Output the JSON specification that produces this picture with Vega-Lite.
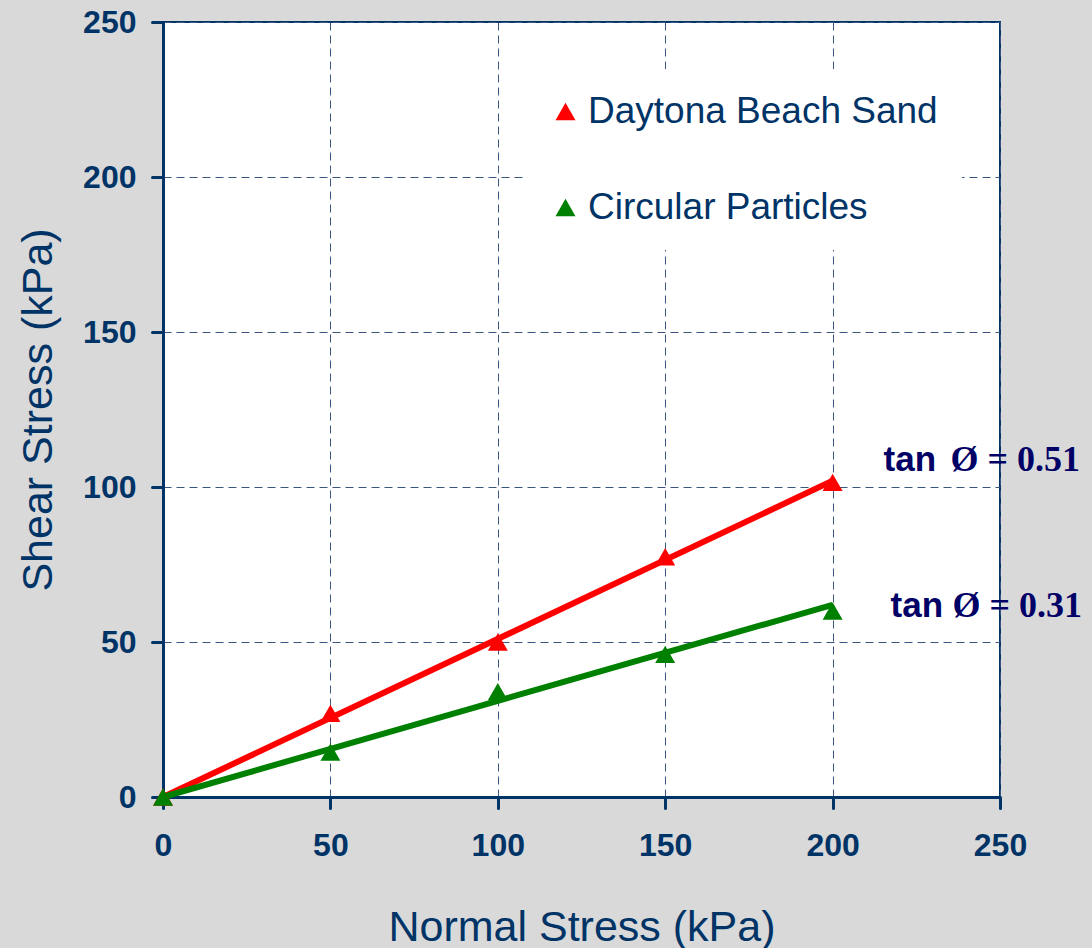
{
  "$schema": "https://vega.github.io/schema/vega-lite/v6.json",
  "autosize": {"type": "none"},
  "padding": {"left": 163, "top": 22, "right": 92, "bottom": 151},
  "width": 837,
  "height": 775,
  "background": "#d9d9d9",
  "config": {
    "view": {"fill": "white", "stroke": "#003366", "strokeWidth": 2},
    "axis": {
      "domainColor": "#003366",
      "domainWidth": 3,
      "tickColor": "#003366",
      "tickWidth": 3,
      "tickSize": 11,
      "tickCap": "round",
      "labelFont": "Liberation Sans",
      "labelFontSize": 32,
      "labelFontWeight": "bold",
      "labelColor": "#003366",
      "labelFlush": false,
      "labelOverlap": false,
      "gridColor": "#3a5680",
      "gridDash": [8, 5],
      "gridWidth": 1,
      "titleFont": "Liberation Sans",
      "titleFontSize": 43,
      "titleFontWeight": "normal",
      "titleColor": "#003366"
    },
    "legend": {
      "labelFont": "Liberation Sans",
      "labelFontSize": 37,
      "labelColor": "#003366",
      "labelLimit": 600
    }
  },
  "datasets": {
    "fits": [
      {"series": "Daytona Beach Sand", "normal": 0, "shear": 0},
      {"series": "Daytona Beach Sand", "normal": 200, "shear": 102},
      {"series": "Circular Particles", "normal": 0, "shear": 0},
      {"series": "Circular Particles", "normal": 200, "shear": 62}
    ]
  },
  "layer": [
    {
      "data": {"name": "fits"},
      "transform": [{"filter": "datum.series === 'Daytona Beach Sand'"}],
      "mark": {"type": "line", "strokeWidth": 6, "strokeCap": "butt", "color": "#ff0000"},
      "encoding": {
        "x": {
          "field": "normal", "type": "quantitative",
          "scale": {"domain": [0, 250], "nice": false},
          "axis": {"values": [0, 50, 100, 150, 200, 250], "title": "Normal Stress (kPa)", "labelPadding": 22, "titlePadding": 45}
        },
        "y": {
          "field": "shear", "type": "quantitative",
          "scale": {"domain": [0, 250], "nice": false},
          "axis": {"values": [0, 50, 100, 150, 200, 250], "title": "Shear Stress (kPa)", "labelPadding": 16, "titlePadding": 22}
        }
      }
    },
    {
      "data": {"name": "fits"},
      "transform": [{"filter": "datum.series === 'Circular Particles'"}],
      "mark": {"type": "line", "strokeWidth": 6, "strokeCap": "butt", "color": "#008000"},
      "encoding": {
        "x": {"field": "normal", "type": "quantitative"},
        "y": {"field": "shear", "type": "quantitative"}
      }
    },
    {
      "data": {
        "values": [
          {"series": "Daytona Beach Sand", "normal": 0, "shear": 0},
          {"series": "Daytona Beach Sand", "normal": 50, "shear": 27},
          {"series": "Daytona Beach Sand", "normal": 100, "shear": 50},
          {"series": "Daytona Beach Sand", "normal": 150, "shear": 77.5},
          {"series": "Daytona Beach Sand", "normal": 200, "shear": 101.5},
          {"series": "Circular Particles", "normal": 0, "shear": 0},
          {"series": "Circular Particles", "normal": 50, "shear": 14.5},
          {"series": "Circular Particles", "normal": 100, "shear": 34},
          {"series": "Circular Particles", "normal": 150, "shear": 46},
          {"series": "Circular Particles", "normal": 200, "shear": 60}
        ]
      },
      "mark": {"type": "point", "shape": "triangle-up", "filled": true, "opacity": 1, "size": 400},
      "encoding": {
        "x": {"field": "normal", "type": "quantitative"},
        "y": {"field": "shear", "type": "quantitative"},
        "color": {
          "field": "series", "type": "nominal",
          "scale": {"domain": ["Daytona Beach Sand", "Circular Particles"], "range": ["#ff0000", "#008000"]},
          "legend": {
            "title": null,
            "orient": "none",
            "legendX": 360,
            "legendY": 47,
            "fillColor": "white",
            "padding": 24,
            "rowPadding": 58,
            "labelOffset": 4,
            "symbolType": "triangle-up",
            "symbolSize": 400,
            "symbolStrokeWidth": 0,
            "symbolOpacity": 1
          }
        }
      }
    },
    {
      "data": {"values": [{"normal": 200, "shear": 102, "fn": "tan", "rest": "Ø = 0.51"}]},
      "layer": [
        {
          "mark": {"type": "text", "align": "left", "baseline": "alphabetic", "dx": 51, "dy": -10, "font": "Liberation Sans", "fontSize": 35, "fontWeight": "bold", "color": "#000066"},
          "encoding": {"x": {"field": "normal", "type": "quantitative"}, "y": {"field": "shear", "type": "quantitative"}, "text": {"field": "fn"}}
        },
        {
          "mark": {"type": "text", "align": "left", "baseline": "alphabetic", "dx": 118, "dy": -10, "font": "Liberation Serif", "fontSize": 36, "fontWeight": "bold", "color": "#000066"},
          "encoding": {"x": {"field": "normal", "type": "quantitative"}, "y": {"field": "shear", "type": "quantitative"}, "text": {"field": "rest"}}
        }
      ]
    },
    {
      "data": {"values": [{"normal": 200, "shear": 62, "fn": "tan", "rest": "Ø = 0.31"}]},
      "layer": [
        {
          "mark": {"type": "text", "align": "left", "baseline": "alphabetic", "dx": 58, "dy": 12, "font": "Liberation Sans", "fontSize": 35, "fontWeight": "bold", "color": "#000066"},
          "encoding": {"x": {"field": "normal", "type": "quantitative"}, "y": {"field": "shear", "type": "quantitative"}, "text": {"field": "fn"}}
        },
        {
          "mark": {"type": "text", "align": "left", "baseline": "alphabetic", "dx": 120, "dy": 12, "font": "Liberation Serif", "fontSize": 36, "fontWeight": "bold", "color": "#000066"},
          "encoding": {"x": {"field": "normal", "type": "quantitative"}, "y": {"field": "shear", "type": "quantitative"}, "text": {"field": "rest"}}
        }
      ]
    }
  ]
}
